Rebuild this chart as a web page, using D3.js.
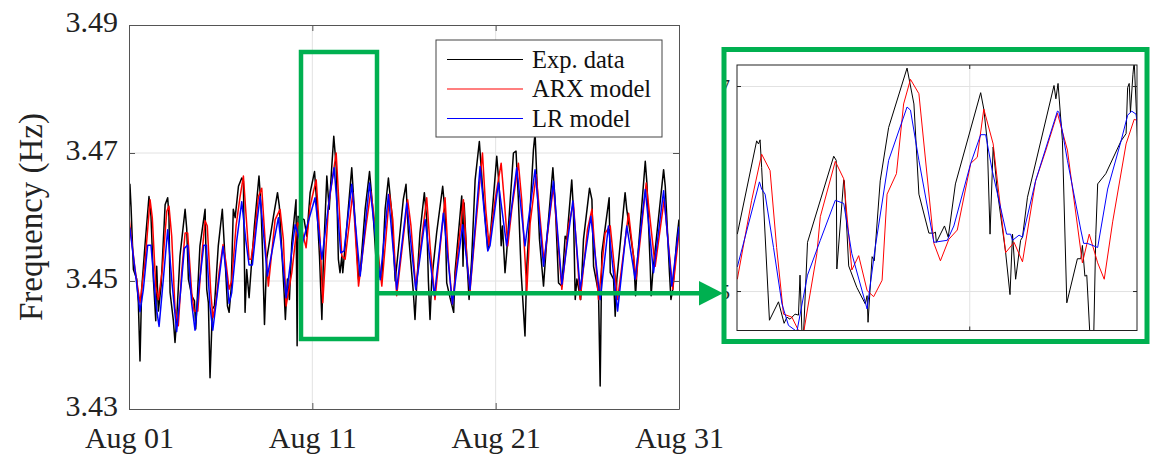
<!DOCTYPE html>
<html><head><meta charset="utf-8">
<script src="https://cdn.jsdelivr.net/npm/d3@7"></script>
<style>body{margin:0;background:#fff} svg{display:block}</style>
</head><body><svg id="c" width="1154" height="456"></svg>
<script>
// ---------- DATA ----------
const yTicks = [3.43, 3.45, 3.47, 3.49];
const xTickDays = [0, 10, 20, 30];            // days after Aug 01
const seriesNames = ["Exp. data", "ARX model", "LR model"];
const seriesColors = ["#000000", "#ff0000", "#0000ff"];

// [day after Aug 01, frequency Hz]
const expData = [[0.0,3.4600],[0.05,3.4651],[0.11,3.4617],[0.24,3.4518],[0.42,3.4503],[0.51,3.4466],[0.6,3.4375],[0.69,3.4487],[0.87,3.4555],[1.09,3.4632],[1.2,3.4601],[1.33,3.4503],[1.46,3.4438],[1.51,3.4523],[1.6,3.4453],[1.75,3.4492],[1.97,3.4619],[2.11,3.4630],[2.18,3.4601],[2.24,3.4482],[2.42,3.4438],[2.51,3.4404],[2.6,3.4440],[2.78,3.4539],[3.06,3.4612],[3.15,3.4581],[3.24,3.4503],[3.42,3.4477],[3.57,3.4469],[3.64,3.4425],[3.87,3.4555],[4.15,3.4612],[4.24,3.4487],[4.33,3.4466],[4.42,3.4349],[4.55,3.4456],[4.66,3.4461],[4.87,3.4555],[5.09,3.4612],[5.24,3.4534],[5.37,3.4461],[5.46,3.4451],[5.57,3.4487],[5.69,3.4612],[5.79,3.4599],[5.97,3.4648],[6.15,3.4661],[6.24,3.4656],[6.33,3.4451],[6.42,3.4518],[6.55,3.4474],[6.66,3.4518],[6.84,3.4586],[7.09,3.4664],[7.2,3.4617],[7.28,3.4549],[7.39,3.4432],[7.51,3.4534],[7.88,3.4601],[8.1,3.4638],[8.2,3.4617],[8.46,3.4482],[8.53,3.4440],[8.64,3.4503],[8.75,3.4471],[8.88,3.4560],[9.11,3.4627],[9.17,3.4399],[9.22,3.4601],[9.55,3.4596],[9.7,3.4570],[9.88,3.4638],[10.12,3.4671],[10.24,3.4622],[10.39,3.4539],[10.52,3.4440],[10.61,3.4539],[10.79,3.4664],[10.92,3.4612],[11.06,3.4679],[11.17,3.4726],[11.3,3.4679],[11.42,3.4534],[11.51,3.4513],[11.61,3.4539],[11.66,3.4513],[11.79,3.4555],[12.15,3.4677],[12.28,3.4617],[12.52,3.4503],[12.61,3.4513],[12.88,3.4612],[13.12,3.4671],[13.3,3.4612],[13.52,3.4513],[13.79,3.4503],[13.97,3.4612],[14.15,3.4661],[14.33,3.4607],[14.52,3.4500],[14.96,3.4627],[15.11,3.4651],[15.24,3.4575],[15.51,3.4482],[15.6,3.4440],[15.69,3.4492],[15.87,3.4575],[16.11,3.4638],[16.24,3.4596],[16.33,3.4500],[16.42,3.4440],[16.51,3.4500],[16.78,3.4575],[17.11,3.4648],[17.24,3.4607],[17.33,3.4497],[17.51,3.4474],[17.71,3.4451],[17.78,3.4513],[18.15,3.4633],[18.22,3.4523],[18.28,3.4622],[18.42,3.4539],[18.55,3.4471],[18.69,3.4534],[18.88,3.4658],[19.11,3.4718],[19.28,3.4648],[19.57,3.4549],[19.69,3.4565],[20.06,3.4695],[20.19,3.4648],[20.3,3.4555],[20.37,3.4586],[20.51,3.4513],[20.6,3.4544],[20.97,3.4700],[21.11,3.4703],[21.24,3.4627],[21.39,3.4513],[21.6,3.4414],[21.7,3.4523],[21.88,3.4612],[22.06,3.4705],[22.15,3.4731],[22.24,3.4664],[22.39,3.4565],[22.61,3.4492],[22.79,3.4565],[23.12,3.4677],[23.24,3.4627],[23.43,3.4497],[23.61,3.4492],[23.79,3.4570],[23.88,3.4565],[24.15,3.4658],[24.24,3.4612],[24.34,3.4471],[24.43,3.4503],[24.64,3.4471],[24.79,3.4565],[25.12,3.4645],[25.25,3.4627],[25.34,3.4523],[25.61,3.4482],[25.7,3.4336],[25.79,3.4544],[26.19,3.4630],[26.25,3.4513],[26.43,3.4503],[26.52,3.4445],[26.61,3.4503],[27.06,3.4638],[27.15,3.4612],[27.52,3.4539],[27.63,3.4477],[27.74,3.4534],[28.16,3.4687],[28.25,3.4653],[28.43,3.4523],[28.48,3.4477],[28.57,3.4513],[29.16,3.4674],[29.25,3.4648],[29.48,3.4513],[29.56,3.4471],[29.66,3.4487],[29.88,3.4565],[30.0,3.4596]];

const arxModel = [[0.0,3.4600],[0.05,3.4586],[0.33,3.4518],[0.6,3.4466],[0.87,3.4529],[1.15,3.4627],[1.27,3.4599],[1.46,3.4492],[1.6,3.4471],[1.82,3.4518],[2.06,3.4609],[2.18,3.4617],[2.33,3.4570],[2.51,3.4456],[2.69,3.4430],[2.87,3.4513],[3.06,3.4575],[3.2,3.4575],[3.42,3.4482],[3.55,3.4453],[3.75,3.4453],[3.97,3.4539],[4.15,3.4594],[4.27,3.4586],[4.46,3.4482],[4.58,3.4443],[4.73,3.4464],[4.91,3.4513],[5.13,3.4557],[5.29,3.4529],[5.46,3.4487],[5.6,3.4500],[5.84,3.4586],[6.06,3.4632],[6.24,3.4664],[6.39,3.4601],[6.55,3.4534],[6.66,3.4534],[6.84,3.4570],[7.06,3.4632],[7.24,3.4645],[7.42,3.4565],[7.6,3.4492],[7.97,3.4596],[8.24,3.4612],[8.42,3.4565],[8.57,3.4461],[8.88,3.4513],[9.19,3.4591],[9.42,3.4581],[9.66,3.4552],[9.88,3.4617],[10.21,3.4658],[10.42,3.4565],[10.57,3.4466],[10.88,3.4617],[11.3,3.4700],[11.61,3.4539],[11.79,3.4534],[12.21,3.4638],[12.52,3.4492],[12.93,3.4586],[13.19,3.4640],[13.43,3.4586],[13.79,3.4492],[14.21,3.4635],[14.39,3.4596],[14.6,3.4477],[15.2,3.4627],[15.38,3.4586],[15.64,3.4490],[16.24,3.4630],[16.42,3.4555],[16.69,3.4471],[17.24,3.4630],[17.42,3.4534],[17.64,3.4464],[18.24,3.4627],[18.42,3.4539],[18.6,3.4484],[18.88,3.4575],[19.28,3.4700],[19.46,3.4612],[19.64,3.4555],[19.97,3.4627],[20.3,3.4684],[20.48,3.4622],[20.66,3.4555],[20.88,3.4612],[21.24,3.4684],[21.42,3.4627],[21.7,3.4484],[21.88,3.4590],[22.21,3.4666],[22.64,3.4529],[23.15,3.4648],[23.61,3.4487],[23.97,3.4586],[24.24,3.4622],[24.61,3.4471],[25.01,3.4581],[25.25,3.4612],[25.61,3.4471],[25.97,3.4575],[26.25,3.4586],[26.65,3.4471],[27.25,3.4606],[27.66,3.4503],[28.21,3.4653],[28.7,3.4523],[29.19,3.4627],[29.66,3.4487],[30.0,3.4575]];

const lrModel = [[0.0,3.4585],[0.05,3.4582],[0.33,3.4517],[0.6,3.4452],[0.78,3.4486],[1.02,3.4556],[1.2,3.4556],[1.46,3.4465],[1.64,3.4429],[1.87,3.4502],[2.11,3.4580],[2.33,3.4502],[2.6,3.4421],[2.84,3.4492],[3.02,3.4551],[3.2,3.4556],[3.42,3.4465],[3.6,3.4423],[3.82,3.4492],[4.08,3.4556],[4.22,3.4556],[4.42,3.4460],[4.57,3.4423],[4.84,3.4486],[5.13,3.4554],[5.33,3.4507],[5.46,3.4465],[5.6,3.4481],[5.88,3.4564],[6.15,3.4624],[6.37,3.4564],[6.55,3.4525],[6.73,3.4525],[6.97,3.4590],[7.15,3.4632],[7.55,3.4508],[8.15,3.4599],[8.57,3.4474],[9.06,3.4588],[9.42,3.4555],[9.79,3.4594],[10.15,3.4630],[10.52,3.4534],[10.97,3.4638],[11.19,3.4677],[11.55,3.4544],[11.73,3.4547],[12.15,3.4651],[12.61,3.4508],[13.12,3.4653],[13.7,3.4502],[14.15,3.4635],[14.6,3.4487],[15.15,3.4622],[15.64,3.4487],[16.15,3.4596],[16.66,3.4477],[17.15,3.4606],[17.64,3.4464],[18.2,3.4588],[18.6,3.4487],[19.15,3.4679],[19.57,3.4547],[19.69,3.4555],[20.15,3.4653],[20.6,3.4555],[21.15,3.4677],[21.6,3.4555],[22.15,3.4674],[22.61,3.4523],[23.15,3.4656],[23.61,3.4495],[24.21,3.4625],[24.61,3.4487],[25.19,3.4601],[25.7,3.4471],[26.15,3.4586],[26.65,3.4453],[27.15,3.4586],[27.61,3.4503],[28.16,3.4643],[28.61,3.4513],[29.16,3.4641],[29.61,3.4492],[30.0,3.4585]];

// inset: [hours from inset start, frequency Hz]
const insetHours = [0, 128.2];
const insetFreq = [3.4462, 3.4721];
const insetYTicks = [3.45, 3.47];
const insetXTicks = [74.6];
const insetExp = [[0.1,3.4556],[6.3,3.4647],[6.9,3.4644],[7.4,3.4648],[7.9,3.4621],[10.4,3.4472],[13.3,3.4490],[15.1,3.4469],[16.0,3.4475],[17.0,3.4473],[18.6,3.4478],[19.7,3.4477],[20.2,3.4516],[20.8,3.4462],[21.3,3.4457],[22.6,3.4548],[31.0,3.4632],[31.8,3.4628],[32.0,3.4522],[34.2,3.4609],[34.4,3.4608],[35.8,3.4525],[38.4,3.4504],[41.1,3.4488],[41.7,3.4496],[42.0,3.4470],[43.3,3.4534],[44.0,3.4530],[45.9,3.4608],[48.6,3.4660],[54.5,3.4718],[56.7,3.4683],[58.3,3.4595],[61.5,3.4557],[63.1,3.4557],[63.6,3.4558],[63.9,3.4548],[66.5,3.4564],[67.7,3.4553],[70.0,3.4605],[78.1,3.4694],[79.1,3.4678],[80.2,3.4647],[81.1,3.4556],[82.1,3.4641],[83.4,3.4599],[86.1,3.4538],[87.5,3.4497],[88.3,3.4556],[89.3,3.4512],[90.9,3.4550],[91.5,3.4553],[93.1,3.4592],[101.6,3.4701],[102.2,3.4688],[102.9,3.4703],[104.3,3.4647],[105.7,3.4489],[109.1,3.4532],[110.2,3.4532],[110.7,3.4545],[111.5,3.4515],[112.1,3.4516],[113.2,3.4452],[114.3,3.4452],[115.0,3.4556],[115.6,3.4605],[118.2,3.4615],[123.1,3.4647],[124.7,3.4654],[125.2,3.4699],[125.7,3.4703],[126.1,3.4675],[126.9,3.4712],[127.3,3.4725],[127.9,3.4683],[128.4,3.4647]];
const insetArx = [[0.1,3.4512],[4.7,3.4589],[7.9,3.4634],[10.6,3.4618],[12.7,3.4543],[14.9,3.4478],[17.6,3.4475],[19.7,3.4462],[21.3,3.4459],[22.6,3.4483],[25.6,3.4537],[26.7,3.4573],[31.5,3.4627],[34.2,3.4610],[36.8,3.4521],[39.0,3.4535],[41.7,3.4501],[43.8,3.4495],[46.5,3.4511],[48.1,3.4595],[51.1,3.4615],[53.4,3.4683],[55.6,3.4707],[58.3,3.4693],[63.1,3.4547],[65.2,3.4530],[67.9,3.4551],[70.6,3.4560],[74.9,3.4625],[77.0,3.4631],[79.1,3.4678],[82.1,3.4644],[86.1,3.4538],[88.8,3.4548],[91.5,3.4529],[95.7,3.4608],[99.0,3.4638],[102.7,3.4674],[105.9,3.4638],[110.7,3.4528],[112.9,3.4556],[115.6,3.4528],[117.7,3.4512],[120.4,3.4568],[124.7,3.4644],[127.3,3.4668],[128.2,3.4667]];
const insetLr = [[0.1,3.4524],[7.2,3.4607],[7.9,3.4600],[9.0,3.4595],[11.7,3.4543],[14.4,3.4488],[16.5,3.4467],[19.2,3.4461],[22.6,3.4516],[26.7,3.4550],[31.5,3.4589],[34.2,3.4586],[36.8,3.4537],[41.7,3.4483],[44.3,3.4543],[48.6,3.4628],[54.5,3.4680],[55.6,3.4677],[58.3,3.4628],[63.1,3.4548],[67.4,3.4550],[69.5,3.4564],[74.9,3.4625],[78.1,3.4653],[79.7,3.4653],[81.8,3.4618],[86.4,3.4556],[87.7,3.4556],[88.3,3.4550],[90.4,3.4555],[91.5,3.4553],[95.7,3.4608],[102.7,3.4676],[103.2,3.4675],[105.9,3.4628],[110.2,3.4560],[111.1,3.4547],[112.3,3.4547],[115.6,3.4543],[118.8,3.4600],[123.1,3.4647],[125.2,3.4672],[126.5,3.4676],[127.9,3.4673],[128.4,3.4660]];

// ---------- DRAW ----------
const svg = d3.select("#c");
const FONT = "'Liberation Serif', 'Times New Roman', serif";
const GREEN = "#00b050";
const base = Date.UTC(2021, 7, 1);
const toDate = d => new Date(base + d * 864e5);
const M = {l:129, r:679, t:25, b:409};
const x = d3.scaleUtc().domain([toDate(0), toDate(30)]).range([M.l, M.r]);
const y = d3.scaleLinear().domain([yTicks[0], yTicks[yTicks.length-1]]).range([M.b, M.t]);

const defs = svg.append("defs");
defs.append("clipPath").attr("id","pc").append("rect")
  .attr("x",M.l).attr("y",M.t).attr("width",M.r-M.l).attr("height",M.b-M.t);

// grid
const grid = svg.append("g").attr("stroke","#e2e2e2").attr("stroke-width",1);
grid.selectAll(".gx").data(xTickDays.slice(1,-1)).join("line")
  .attr("x1",d=>x(toDate(d))).attr("x2",d=>x(toDate(d))).attr("y1",M.t).attr("y2",M.b);
grid.selectAll(".gy").data(yTicks.slice(1,-1)).join("line")
  .attr("y1",d=>y(d)).attr("y2",d=>y(d)).attr("x1",M.l).attr("x2",M.r);

// lines
const line = d3.line().x(d=>x(toDate(d[0]))).y(d=>y(d[1]));
const mainG = svg.append("g").attr("clip-path","url(#pc)");
[expData, arxModel, lrModel].forEach((s,i)=>{
  mainG.append("path").datum(s).attr("d",line).attr("fill","none")
    .attr("stroke",seriesColors[i]).attr("stroke-width",1.5).attr("stroke-linejoin","round");
});

// axes
const AX = "#555";
const TICKFS = 30;
function styleAxis(g){
  g.select(".domain").attr("stroke",AX).attr("stroke-width",1);
  g.selectAll(".tick line").attr("stroke",AX);
  g.selectAll("text").attr("font-family",FONT).attr("font-size",TICKFS).attr("fill","#222");
}
const xTickDates = xTickDays.map(toDate);
svg.append("g").attr("transform",`translate(0,${M.b})`)
  .call(d3.axisBottom(x).tickValues(xTickDates).tickFormat(d3.utcFormat("%b %d")).tickSizeInner(-6).tickSizeOuter(0).tickPadding(18))
  .call(styleAxis);
svg.append("g").attr("transform",`translate(0,${M.t})`)
  .call(d3.axisTop(x).tickValues(xTickDates).tickFormat("").tickSizeInner(-6).tickSizeOuter(0))
  .call(styleAxis);
svg.append("g").attr("transform",`translate(${M.l},0)`)
  .call(d3.axisLeft(y).tickValues(yTicks).tickFormat(d3.format(".2f")).tickSizeInner(-6).tickSizeOuter(0).tickPadding(11))
  .call(styleAxis)
  .call(g=>g.selectAll("text").attr("dy","0.2em"));
svg.append("g").attr("transform",`translate(${M.r},0)`)
  .call(d3.axisRight(y).tickValues(yTicks).tickFormat("").tickSizeInner(-6).tickSizeOuter(0))
  .call(styleAxis);

// y label
svg.append("text").attr("transform",`translate(31,${(M.t+M.b)/2}) rotate(-90)`)
  .attr("text-anchor","middle").attr("dy","0.33em")
  .attr("font-family",FONT).attr("font-size",33).attr("fill","#222").text("Frequency (Hz)");

// legend
const lg = svg.append("g");
lg.append("rect").attr("x",436).attr("y",40).attr("width",226).attr("height",97)
  .attr("fill","#fff").attr("stroke","#444").attr("stroke-width",1);
seriesNames.forEach((n,i)=>{
  const yy = 59.5 + i*29.5;
  lg.append("line").attr("x1",447).attr("x2",523).attr("y1",yy).attr("y2",yy)
    .attr("stroke",seriesColors[i]).attr("stroke-width",1.2);
  lg.append("text").attr("x",532).attr("y",yy).attr("dy","0.33em")
    .attr("font-family",FONT).attr("font-size",24.5).attr("fill","#111").text(n);
});

// green highlight + arrow
svg.append("rect").attr("x",301).attr("y",52).attr("width",76).attr("height",287)
  .attr("fill","none").attr("stroke",GREEN).attr("stroke-width",4.5);
svg.append("line").attr("x1",377).attr("x2",703).attr("y1",293.3).attr("y2",293.3)
  .attr("stroke",GREEN).attr("stroke-width",4.5);
svg.append("path").attr("d","M699,281 L723,293.3 L699,305.6 Z").attr("fill",GREEN);

// inset
const I = {l:737, r:1137, t:65, b:330.5};
const xi = d3.scaleLinear().domain(insetHours).range([I.l, I.r]);
const yi = d3.scaleLinear().domain(insetFreq).range([I.b, I.t]);
defs.append("clipPath").attr("id","ic").append("rect")
  .attr("x",I.l).attr("y",I.t).attr("width",I.r-I.l).attr("height",I.b-I.t);
defs.append("clipPath").attr("id","il").append("rect")
  .attr("x",722).attr("y",40).attr("width",20).attr("height",300);
const ig = svg.append("g");
ig.append("rect").attr("x",I.l).attr("y",I.t).attr("width",I.r-I.l).attr("height",I.b-I.t).attr("fill","#fff");
ig.selectAll(".igy").data(insetYTicks).join("line")
  .attr("x1",I.l).attr("x2",I.r).attr("y1",d=>yi(d)).attr("y2",d=>yi(d)).attr("stroke","#e2e2e2");
ig.selectAll(".igx").data(insetXTicks).join("line")
  .attr("y1",I.t).attr("y2",I.b).attr("x1",d=>xi(d)).attr("x2",d=>xi(d)).attr("stroke","#e2e2e2");
const iline = d3.line().x(d=>xi(d[0])).y(d=>yi(d[1]));
const icg = ig.append("g").attr("clip-path","url(#ic)");
[insetExp, insetArx, insetLr].forEach((s,i)=>{
  icg.append("path").datum(s).attr("d",iline).attr("fill","none")
    .attr("stroke",seriesColors[i]).attr("stroke-width",1).attr("stroke-linejoin","round");
});
ig.append("rect").attr("x",I.l).attr("y",I.t).attr("width",I.r-I.l).attr("height",I.b-I.t)
  .attr("fill","none").attr("stroke","#222").attr("stroke-width",1);
// inset ticks
insetYTicks.forEach(v=>{
  ig.append("line").attr("x1",I.l).attr("x2",I.l+4).attr("y1",yi(v)).attr("y2",yi(v)).attr("stroke","#222");
  ig.append("line").attr("x1",I.r-4).attr("x2",I.r).attr("y1",yi(v)).attr("y2",yi(v)).attr("stroke","#222");
});
insetXTicks.forEach(h=>{
  ig.append("line").attr("x1",xi(h)).attr("x2",xi(h)).attr("y1",I.t).attr("y2",I.t+4).attr("stroke","#222");
  ig.append("line").attr("x1",xi(h)).attr("x2",xi(h)).attr("y1",I.b-4).attr("y2",I.b).attr("stroke","#222");
});
// inset tick labels (mostly hidden behind frame)
ig.append("g").attr("clip-path","url(#il)").selectAll("text").data(insetYTicks).join("text")
  .attr("x",730).attr("y",d=>yi(d)).attr("dy","0.35em").attr("text-anchor","end")
  .attr("font-family",FONT).attr("font-size",20).attr("fill","#222").text(d=>d3.format(".2f")(d));
// inset frame
svg.append("rect").attr("x",724).attr("y",49.5).attr("width",423).attr("height",292)
  .attr("fill","none").attr("stroke",GREEN).attr("stroke-width",5);
</script></body></html>
